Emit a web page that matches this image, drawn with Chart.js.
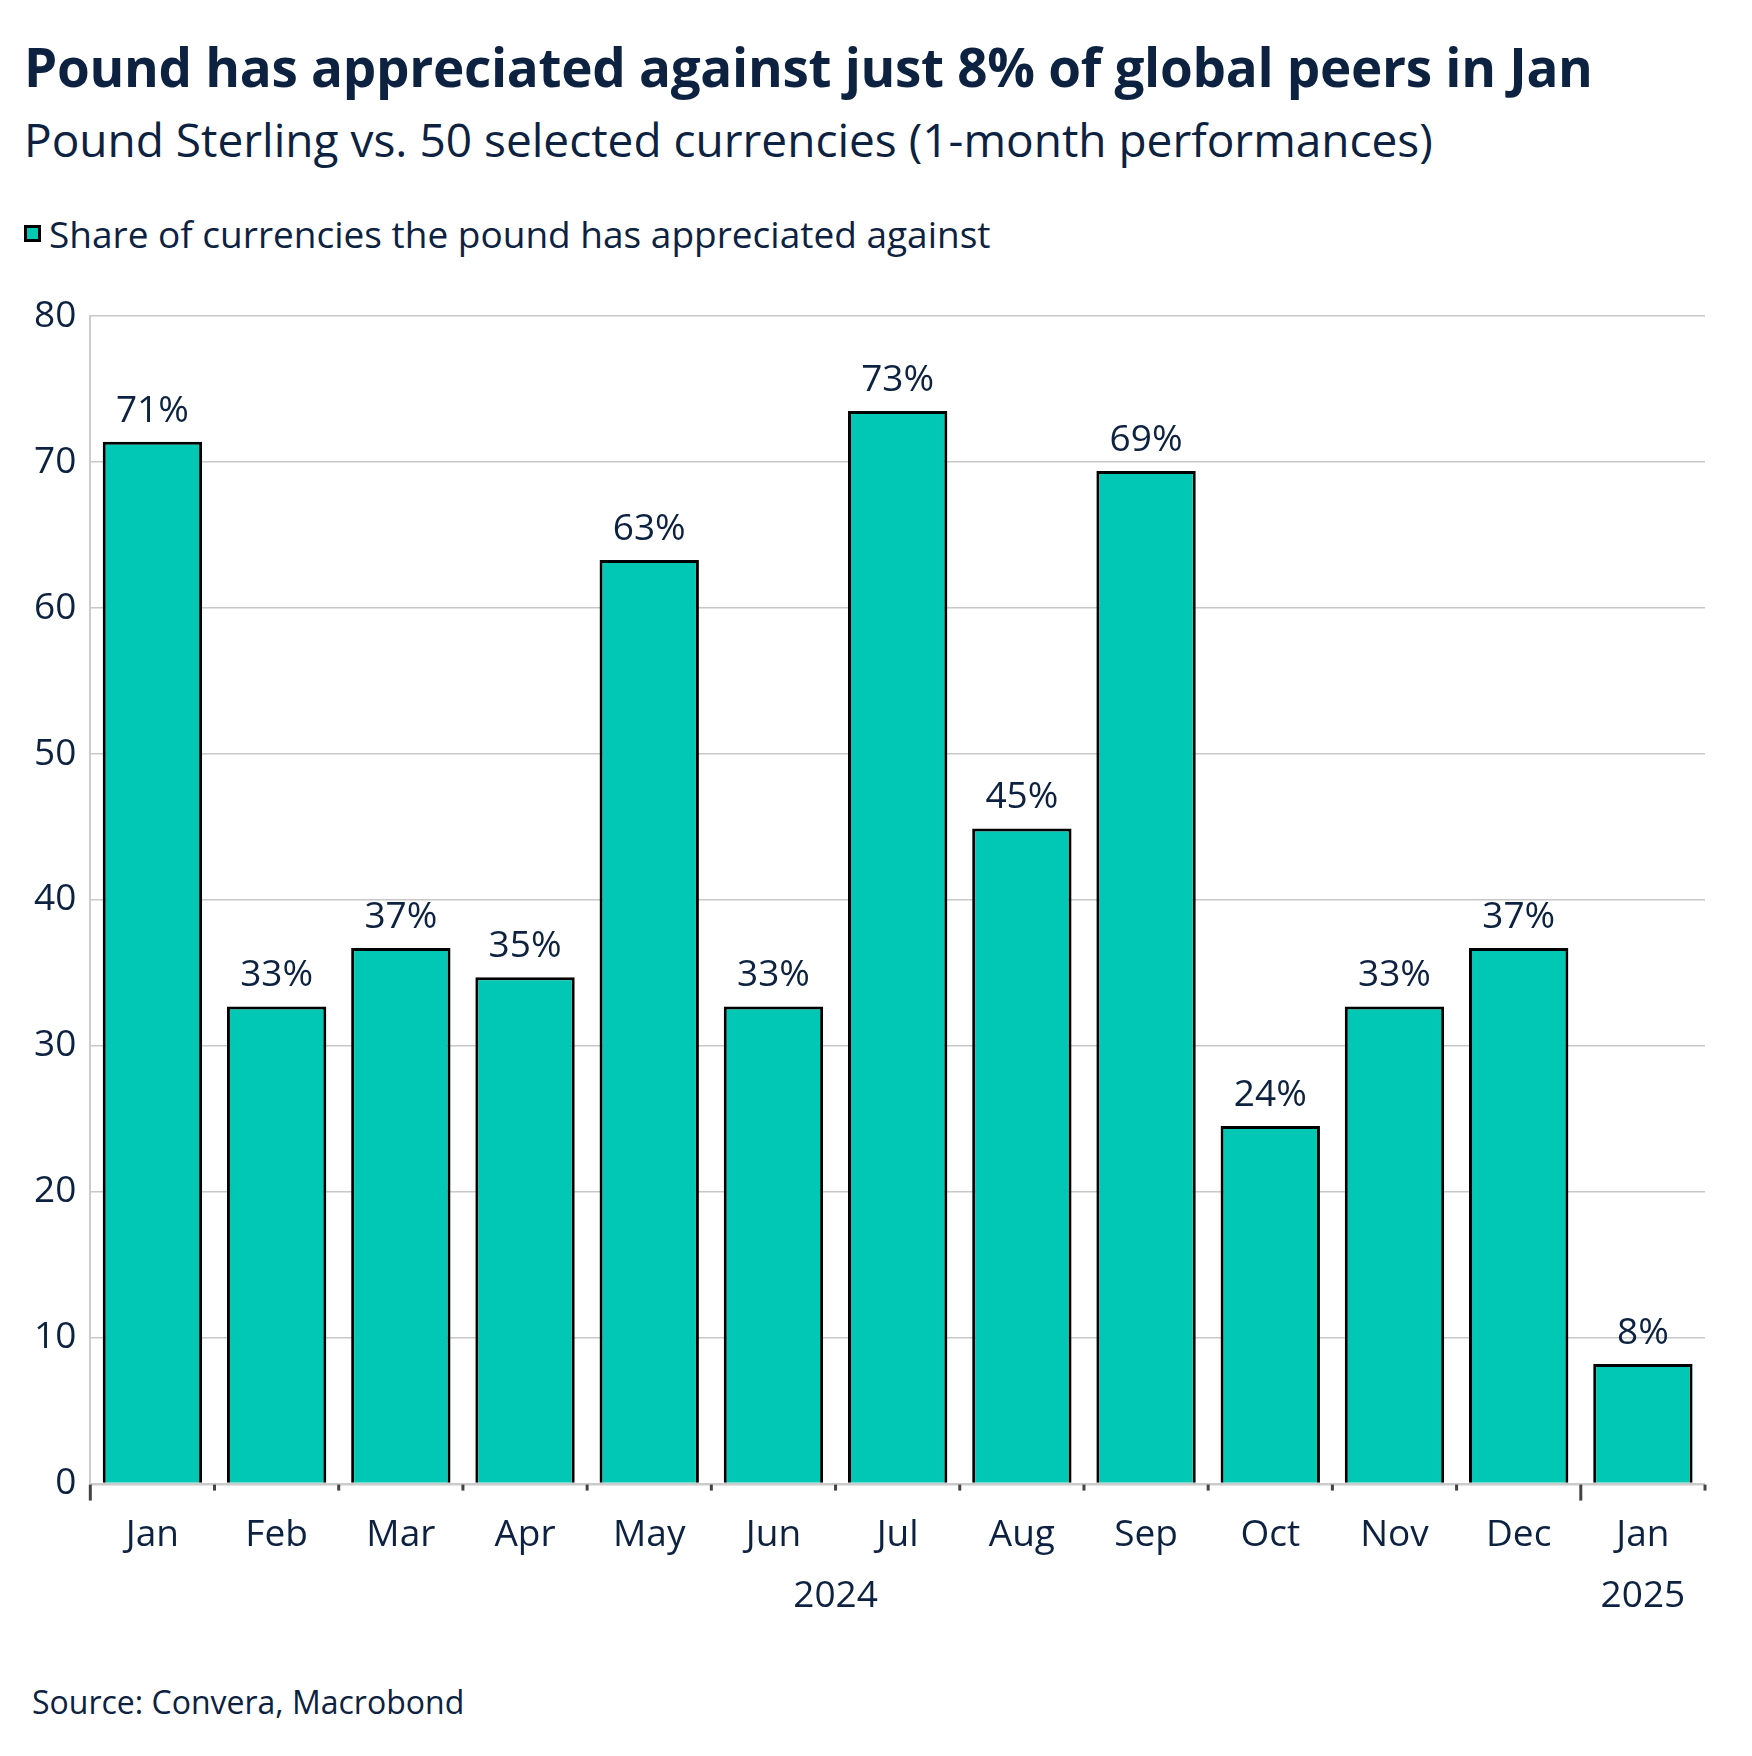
<!DOCTYPE html>
<html><head><meta charset="utf-8">
<script src="https://cdn.jsdelivr.net/npm/chart.js@4.4.1/dist/chart.umd.min.js"></script>
<style>
body{margin:0;width:1752px;height:1756px;background:#fff;font-family:"Open Sans","Noto Sans",sans-serif;color:#0d2240;position:relative;overflow:hidden}
#t{position:absolute;left:24px;top:30px;font-size:53px;font-weight:700;white-space:nowrap;letter-spacing:-0.3px}
#s{position:absolute;left:24px;top:108px;font-size:46px;white-space:nowrap}
#l{position:absolute;left:24px;top:208px;font-size:37px;white-space:nowrap;display:flex;align-items:center}
#l span.b{display:inline-block;width:17px;height:17px;background:#00c8b4;border:3px solid #000;margin-right:8px;box-sizing:border-box}
#src{position:absolute;left:32px;top:1680px;font-size:32px}
#c{position:absolute;left:0;top:280px}
</style></head><body>
<div id="t">Pound has appreciated against just 8% of global peers in Jan</div>
<div id="s">Pound Sterling vs. 50 selected currencies (1-month performances)</div>
<div id="l"><span class="b"></span>Share of currencies the pound has appreciated against</div>
<div id="c" style="width:1752px;height:1400px"><canvas id="cv"></canvas></div>
<div id="src">Source: Convera, Macrobond</div>
<script>
const months=["Jan","Feb","Mar","Apr","May","Jun","Jul","Aug","Sep","Oct","Nov","Dec","Jan"];
const values=[71.4,32.7,36.7,34.7,63.3,32.7,73.5,44.9,69.4,24.5,32.7,36.7,8.2];
const labels=["71%","33%","37%","35%","63%","33%","73%","45%","69%","24%","33%","37%","8%"];
const years=[{text:"2024",from:0,to:11},{text:"2025",from:12,to:12}];
const yTicks=[0,10,20,30,40,50,60,70,80];
const navy="#0d2240";
const deco={id:"deco",afterDatasetsDraw(ch){
 const ctx=ch.ctx,x=ch.scales.x,y=ch.scales.y,a=ch.chartArea;
 ctx.save();
 ctx.fillStyle=navy;ctx.font="37px 'Open Sans'";ctx.textAlign="center";ctx.textBaseline="bottom";
 const m=ch.getDatasetMeta(0);
 m.data.forEach((b,i)=>ctx.fillText(labels[i],b.x,b.y-12));
 ctx.strokeStyle="#ccc";ctx.lineWidth=2;ctx.beginPath();ctx.moveTo(a.left,a.bottom+1);ctx.lineTo(a.right,a.bottom+1);ctx.stroke();
 const step=(x.getPixelForValue(1)-x.getPixelForValue(0));
 ctx.strokeStyle="#444";ctx.lineWidth=3;
 for(let i=0;i<=months.length;i++){
  const px=x.getPixelForValue(i)-step/2;const L=(i===12||i===0)?16:6;
  ctx.beginPath();ctx.moveTo(px,a.bottom+1);ctx.lineTo(px,a.bottom+1+L);ctx.stroke();
 }
 ctx.font="37px 'Open Sans'";ctx.textBaseline="middle";
 years.forEach(yr=>{const cx=(x.getPixelForValue(yr.from)+x.getPixelForValue(yr.to))/2;ctx.fillText(yr.text,cx,a.bottom+113);});
 ctx.restore();
}};
new Chart(document.getElementById("cv"),{type:"bar",
 data:{labels:months,datasets:[{data:values,backgroundColor:"#00c8b4",borderColor:"#000",borderWidth:3,categoryPercentage:0.8,barPercentage:1}]},
 options:{responsive:true,maintainAspectRatio:false,animation:false,
  layout:{padding:{left:20,right:47,top:30,bottom:100}},
  plugins:{legend:{display:false},tooltip:{enabled:false}},
  scales:{
   x:{grid:{display:false},border:{display:false},ticks:{color:navy,font:{size:37,family:"Open Sans"},padding:22}},
   y:{min:0,max:80,afterBuildTicks(s){s.ticks=yTicks.map(v=>({value:v}));},
      grid:{color:"#c8c8c8",lineWidth:1.5,drawTicks:false},border:{display:true,color:"#ccc",width:2,dash:[]},
      ticks:{color:navy,font:{size:37,family:"Open Sans"},padding:14}}
  }},plugins:[deco]});
</script>
<script>
// dashed y grid lines
Chart.defaults.font.family="Open Sans";
</script>
</body></html>
